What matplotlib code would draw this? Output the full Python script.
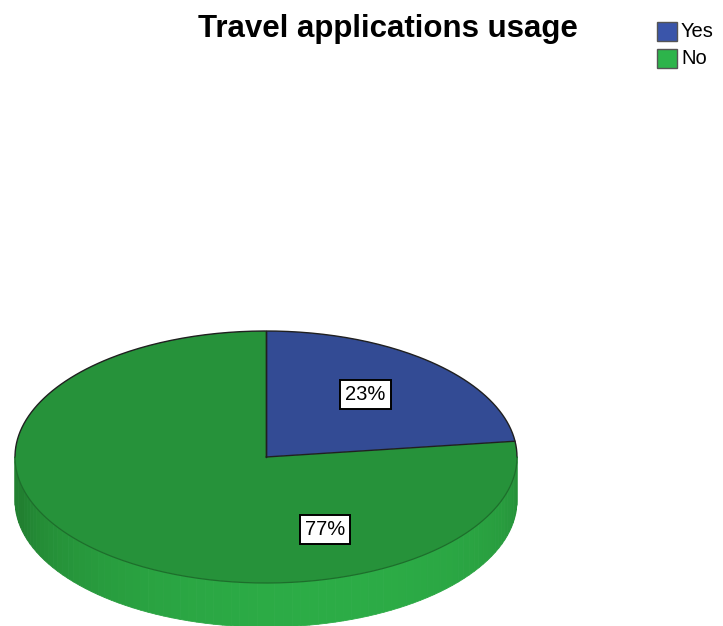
import numpy as np
import matplotlib.pyplot as plt
from matplotlib.patches import Polygon, Rectangle

plt.rcParams['font.family'] = ['Liberation Sans', 'DejaVu Sans']

labels = ['Yes', 'No']
shares = [23, 77]
top_colors = ['#334b94', '#26923a']
legend_colors = ['#3a55aa', '#2db44b']

# pie geometry in pixel space
cx, cy = 266, 457
rx, ry = 251, 126
depth = 44

fig = plt.figure(figsize=(7.23, 6.26), dpi=100)
ax = fig.add_axes([0, 0, 1, 1])
ax.set_xlim(0, 723)
ax.set_ylim(626, 0)
ax.axis('off')


def rim(t):
    t = np.radians(t)
    return cx + rx * np.cos(t), cy - ry * np.sin(t)


# side wall, drawn as thin shaded strips along the front half
dark = np.array([33, 128, 48]) / 255
light = np.array([44, 172, 70]) / 255
steps = np.linspace(180, 360, 91)
for t0, t1 in zip(steps[:-1], steps[1:]):
    x0, y0 = rim(t0)
    x1, y1 = rim(t1)
    k = np.clip(np.cos(np.radians((t0 + t1) / 2 - 285)), 0, 1) ** 0.8
    col = dark + (light - dark) * k
    ax.add_patch(Polygon([[x0, y0], [x1, y1], [x1, y1 + depth], [x0, y0 + depth]],
                         closed=True, facecolor=col, edgecolor=col, linewidth=0.6))

# top face slices, starting at 12 o'clock and running clockwise
start = 90.0
label_pos = [(0.396, 0.496), (0.235, -0.579)]
for share, col, lp in zip(shares, top_colors, label_pos):
    end = start - share / sum(shares) * 360
    ts = np.linspace(start, end, 200)
    xs, ys = rim(ts)
    pts = np.column_stack([np.r_[cx, xs], np.r_[cy, ys]])
    ax.add_patch(Polygon(pts, closed=True, facecolor=col, edgecolor='none'))
    ex, ey = rim(start)
    ax.plot([cx, ex], [cy, ey], color='#202020', lw=1.0, solid_capstyle='round')
    ax.text(cx + lp[0] * rx, cy - lp[1] * ry, f'{share}%', ha='center', va='center',
            fontsize=14.5, color='black',
            bbox=dict(boxstyle='square,pad=0.25', facecolor='white', edgecolor='black',
                      linewidth=1.4))
    start = end
ex, ey = rim(start)
ax.plot([cx, ex], [cy, ey], color='#202020', lw=1.0, solid_capstyle='round')

# rim outline: dark on the back half, softer along the front
tb = np.linspace(0, 180, 200)
ax.plot(*rim(tb), color='#202020', lw=1.0)
tf = np.linspace(180, 360, 200)
ax.plot(*rim(tf), color='#1d6e2b', lw=0.9)

ax.text(388, 37, 'Travel applications usage', ha='center', va='baseline',
        fontsize=22.5, fontweight='bold')

# legend
for i, (lab, col) in enumerate(zip(labels, legend_colors)):
    y = 22 + 27 * i
    ax.add_patch(Rectangle((657, y), 20, 19, facecolor=col, edgecolor='#555555', lw=1.0))
    ax.text(681, y + 9.5, lab, ha='left', va='center', fontsize=14.5)

fig.savefig('out.png', dpi=100)
